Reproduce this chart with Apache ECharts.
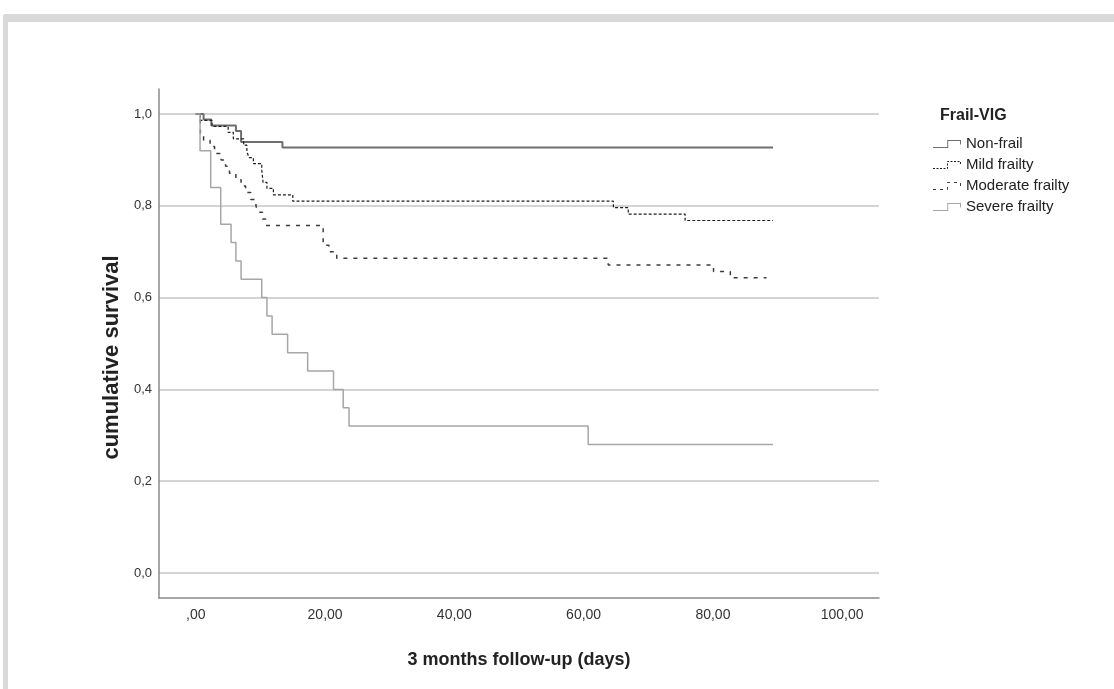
<!DOCTYPE html>
<html>
<head>
<meta charset="utf-8">
<title>Frail-VIG survival</title>
<script src="https://cdn.jsdelivr.net/npm/echarts@6/dist/echarts.min.js"></script>
<style>
body { margin: 0; background: #ffffff; }
.frame {
  position: absolute;
  left: 3px;
  top: 14px;
  width: 1200px;
  height: 800px;
  border-top: 8px solid #d9d9d9;
  border-left: 5px solid #d9d9d9;
  border-top-left-radius: 3px;
}
#chart { position: absolute; left: 0; top: 0; width: 1114px; height: 689px; }
</style>
</head>
<body>
<div class="frame"></div>
<div id="chart"></div>
<script>
// Kaplan-Meier steps (days, cumulative survival)
var groups = ['Non-frail', 'Mild frailty', 'Moderate frailty', 'Severe frailty']

var nonFrailDays = [0, 1.2, 2.4, 6.2, 7.0, 13.4, 89.3]
var nonFrailSurv = [1.0, 0.988, 0.975, 0.963, 0.939, 0.927, 0.927]

var mildDays = [0, 0.7, 2.5, 5.0, 5.8, 7.4, 7.9, 8.2, 8.9, 10.2, 10.4, 11.0, 12.0, 15.0, 64.6, 66.9, 75.7, 89.3]
var mildSurv = [1.0, 0.986, 0.973, 0.960, 0.946, 0.932, 0.919, 0.905, 0.892, 0.878, 0.851, 0.838, 0.824, 0.810, 0.796, 0.782, 0.768, 0.768]

var moderateDays = [0, 0.7, 1.2, 2.2, 2.9, 3.9, 4.6, 5.2, 6.2, 7.0, 7.7, 8.5, 9.3, 9.6, 10.3, 10.8, 19.7, 20.6, 21.8, 63.8, 80.1, 82.7, 88.3]
var moderateSurv = [1.0, 0.957, 0.943, 0.929, 0.914, 0.900, 0.886, 0.871, 0.857, 0.843, 0.829, 0.814, 0.800, 0.786, 0.771, 0.757, 0.714, 0.700, 0.686, 0.671, 0.657, 0.643, 0.643]

var severeDays = [0, 0.65, 2.3, 3.85, 5.45, 6.2, 7.0, 10.2, 11.0, 11.8, 14.2, 17.3, 21.3, 22.8, 23.7, 60.7, 89.3]
var severeSurv = [1.0, 0.92, 0.84, 0.76, 0.72, 0.68, 0.64, 0.60, 0.56, 0.52, 0.48, 0.44, 0.40, 0.36, 0.32, 0.28, 0.28]

var xTicks = [0, 20, 40, 60, 80, 100]
var yTicks = [0, 0.2, 0.4, 0.6, 0.8, 1.0]

function pairs(days, surv) {
  return days.map(function (d, i) { return [d, surv[i]] })
}

// little step-shaped legend icon, built from 1px rectangles so it can be dashed
function stepIcon(dash, gap) {
  var pts = [[0, 7.5], [14.5, 7.5], [14.5, 0.5], [27.5, 0.5], [27.5, 4]]
  var d = 'M0,0M28,8'
  var phase = 0
  function rect(x1, y1, x2, y2) {
    d += 'M' + x1 + ',' + y1 + 'L' + x2 + ',' + y1 + 'L' + x2 + ',' + y2 + 'L' + x1 + ',' + y2 + 'Z'
  }
  for (var i = 0; i < pts.length - 1; i++) {
    var a = pts[i], b = pts[i + 1]
    var len = Math.abs(b[0] - a[0]) + Math.abs(b[1] - a[1])
    var dx = (b[0] - a[0]) / len, dy = (b[1] - a[1]) / len
    var pieces = []
    if (!dash) {
      pieces.push([-0.5, len + 0.5])
    } else {
      var t = 0
      while (t < len) {
        var p = phase % (dash + gap)
        if (p < dash) {
          var run = Math.min(dash - p, len - t)
          pieces.push([t, t + run])
          t += run; phase += run
        } else {
          var skip = Math.min(dash + gap - p, len - t)
          t += skip; phase += skip
        }
      }
    }
    pieces.forEach(function (pc) {
      var x1 = a[0] + dx * pc[0], y1 = a[1] + dy * pc[0]
      var x2 = a[0] + dx * pc[1], y2 = a[1] + dy * pc[1]
      if (dy === 0) rect(Math.min(x1, x2), y1 - 0.5, Math.max(x1, x2), y1 + 0.5)
      else rect(x1 - 0.5, Math.min(y1, y2), x1 + 0.5, Math.max(y1, y2))
    })
  }
  return 'path://' + d
}

var font = '"Liberation Sans", Arial, sans-serif'

var option = {
  animation: false,
  title: {
    text: 'Frail-VIG',
    left: 940,
    top: 108,
    padding: 0,
    textStyle: { fontFamily: font, fontSize: 16, fontWeight: 'bold', color: '#222' }
  },
  legend: {
    orient: 'vertical',
    left: 933,
    top: 136,
    padding: 0,
    itemWidth: 28,
    itemHeight: 8,
    itemGap: 5,
    itemStyle: { borderWidth: 0 },
    textStyle: { fontFamily: font, fontSize: 15, color: '#222', lineHeight: 16 },
    data: [
      { name: groups[0], icon: stepIcon(0, 0) },
      { name: groups[1], icon: stepIcon(2, 1.5) },
      { name: groups[2], icon: stepIcon(3, 4) },
      { name: groups[3], icon: stepIcon(0, 0) }
    ]
  },
  grid: { left: 159, right: 235, top: 89, bottom: 91, containLabel: false },
  xAxis: {
    type: 'value',
    min: -5.7,
    max: 105.7,
    name: '3 months follow-up (days)',
    nameLocation: 'middle',
    nameGap: 53,
    nameTextStyle: { fontFamily: font, fontSize: 18, fontWeight: 'bold', color: '#222' },
    axisLine: { show: true, onZero: false, lineStyle: { color: '#8a8a8a', width: 1.5 } },
    axisTick: { show: false, customValues: xTicks },
    splitLine: { show: false },
    axisLabel: {
      customValues: xTicks,
      margin: 10,
      fontFamily: font,
      fontSize: 14,
      color: '#333',
      formatter: function (v) { return v === 0 ? ',00' : v.toFixed(2).replace('.', ',') }
    }
  },
  yAxis: {
    type: 'value',
    min: -0.0545,
    max: 1.0545,
    name: 'cumulative survival',
    nameLocation: 'middle',
    nameGap: 34,
    nameTextStyle: { fontFamily: font, fontSize: 22, fontWeight: 'bold', color: '#222', padding: [0, 28, 0, 0] },
    axisLine: { show: true, onZero: false, lineStyle: { color: '#8a8a8a', width: 1.5 } },
    axisTick: { show: false, customValues: yTicks },
    splitLine: { show: true, lineStyle: { color: '#c6c6c6', width: 1.5 } },
    axisLabel: {
      customValues: yTicks,
      margin: 7,
      fontFamily: font,
      fontSize: 13,
      color: '#333',
      formatter: function (v) { return v.toFixed(1).replace('.', ',') }
    }
  },
  series: [
    {
      name: groups[0], type: 'line', step: 'end', symbol: 'none',
      color: '#6e6e6e', lineStyle: { width: 2, color: '#6e6e6e' },
      data: pairs(nonFrailDays, nonFrailSurv)
    },
    {
      name: groups[1], type: 'line', step: 'end', symbol: 'none',
      color: '#1e1e1e', lineStyle: { width: 1.2, color: '#1e1e1e', type: [3, 2] },
      data: pairs(mildDays, mildSurv)
    },
    {
      name: groups[2], type: 'line', step: 'end', symbol: 'none',
      color: '#3c3c3c', lineStyle: { width: 1.5, color: '#3c3c3c', type: [4, 6] },
      data: pairs(moderateDays, moderateSurv)
    },
    {
      name: groups[3], type: 'line', step: 'end', symbol: 'none',
      color: '#a6a6a6', lineStyle: { width: 1.5, color: '#a6a6a6' },
      data: pairs(severeDays, severeSurv)
    }
  ]
}

var myChart = echarts.init(document.getElementById('chart'))
myChart.setOption(option)
</script>
</body>
</html>
